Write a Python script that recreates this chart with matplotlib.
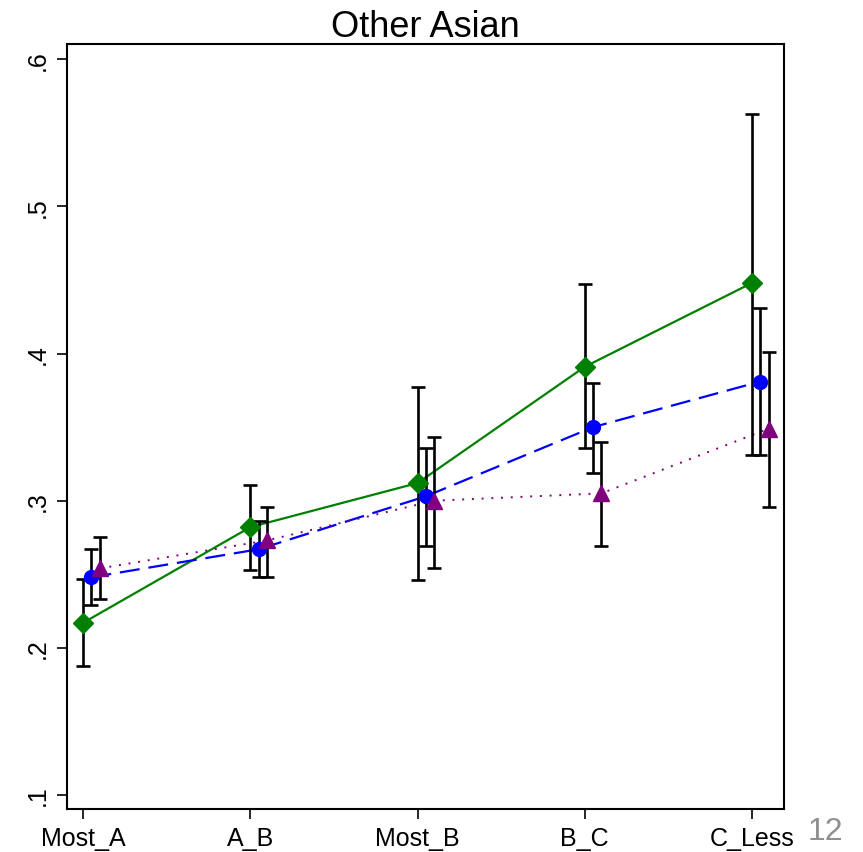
import matplotlib
matplotlib.use("Agg")
import matplotlib.pyplot as plt
import numpy as np

plt.rcParams['font.family'] = ['Liberation Sans', 'DejaVu Sans']

categories = ["Most_A", "A_B", "Most_B", "B_C", "C_Less"]

green_val = [0.217, 0.282, 0.312, 0.391, 0.448]
green_lo = [0.188, 0.253, 0.246, 0.336, 0.331]
green_hi = [0.247, 0.311, 0.377, 0.447, 0.563]

blue_val = [0.248, 0.267, 0.303, 0.350, 0.381]
blue_lo = [0.229, 0.248, 0.269, 0.319, 0.331]
blue_hi = [0.267, 0.286, 0.336, 0.380, 0.431]

purple_val = [0.254, 0.273, 0.300, 0.305, 0.349]
purple_lo = [0.233, 0.248, 0.254, 0.269, 0.296]
purple_hi = [0.275, 0.296, 0.343, 0.340, 0.401]

yticks = [0.1, 0.2, 0.3, 0.4, 0.5, 0.6]
ytick_labels = [".1", ".2", ".3", ".4", ".5", ".6"]

fig = plt.figure(figsize=(8.63, 8.53), dpi=100)
ax = fig.add_axes([0.078, 0.0504, 0.9088 - 0.078, 0.947 - 0.0504])

x = np.arange(1, len(categories) + 1)

series = [
    (green_val, green_lo, green_hi, 0.0, '#008000', '-', 'D', 10.5, 1.6),
    (blue_val, blue_lo, blue_hi, 0.05, '#0000ff', (0, (9, 4)), 'o', 10, 1.6),
    (purple_val, purple_lo, purple_hi, 0.10, '#800080', (0, (1, 4)), '^', 11, 1.4),
]

for val, lo, hi, off, col, ls, mk, ms, lw in series:
    xs = x + off
    v = np.array(val)
    yerr = np.vstack([v - np.array(lo), np.array(hi) - v])
    ax.errorbar(xs, v, yerr=yerr, fmt='none', ecolor='black', elinewidth=1.9,
                capsize=4.8, capthick=1.9, zorder=3)

for val, lo, hi, off, col, ls, mk, ms, lw in series:
    xs = x + off
    ax.plot(xs, val, linestyle=ls, color=col, linewidth=lw, zorder=2)
    ax.plot(xs, val, linestyle='none', marker=mk, markersize=ms, color=col,
            markeredgecolor=col, zorder=4)

ax.set_xlim(0.906, 5.193)
ax.set_ylim(0.0905, 0.6102)
ax.set_xticks(x)
ax.set_xticklabels(categories, fontsize=18)
ax.set_yticks(yticks)
ax.set_yticklabels(ytick_labels, fontsize=18, rotation=90, va='center')
ax.tick_params(axis='both', direction='out', length=7, width=1.2, color='black')
ax.tick_params(axis='x', pad=5)
ax.tick_params(axis='y', pad=6)
for s in ax.spines.values():
    s.set_linewidth(1.5)
    s.set_color('black')

ax.set_title("Other Asian", fontsize=26, pad=6)

fig.text(825 / 863, 1 - 832 / 853, "12", fontsize=23, color='#909090',
         ha='center', va='center',
         family=['Liberation Sans Narrow', 'Liberation Sans', 'DejaVu Sans'])

fig.savefig("out.png", dpi=100)
